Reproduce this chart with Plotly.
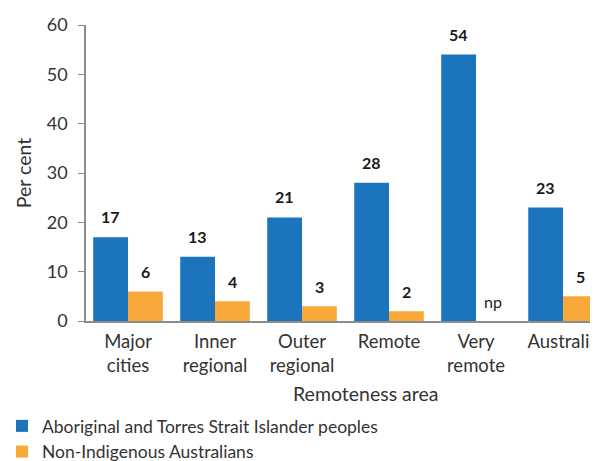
import plotly.graph_objects as go

categories = ["Major<br>cities", "Inner<br>regional", "Outer<br>regional", "Remote", "Very<br>remote", "Australia"]
indigenous = [17, 13, 21, 28, 54, 23]
non_indigenous = [6, 4, 3, 2, None, 5]
non_indigenous_text = ["6", "4", "3", "2", "np", "5"]
y_ticks = [0, 10, 20, 30, 40, 50, 60]

BLUE = "#1c75bc"
ORANGE = "#f9a93a"
FONT = "Lato, 'Open Sans', sans-serif"
TXT = "#333333"

# the page body offsets the figure by 8px
OFF = 8
W, H = 598 - OFF, 461 - OFF
L, R, T, B = 86 - OFF, 0, 25 - OFF, 140
PW, PH = W - L - R, H - T - B

def px_x(x):
    return (x - OFF - L) / PW

def px_y(y):
    return (H - B - (y - OFF)) / PH

x_idx = list(range(len(categories)))

fig = go.Figure()
fig.add_trace(go.Bar(x=x_idx, y=indigenous, name="Aboriginal and Torres Strait Islander peoples",
                     marker=dict(color=BLUE, line=dict(width=0))))
fig.add_trace(go.Bar(x=x_idx, y=[v if v is not None else 0 for v in non_indigenous],
                     name="Non-Indigenous Australians",
                     marker=dict(color=ORANGE, line=dict(width=0))))

LBL = dict(family=FONT, size=16, color="#1a1a1a")
annotations = []
for i, v in enumerate(indigenous):
    annotations.append(dict(x=i - 0.2, y=v, xref="x", yref="y", text="<b>%d</b>" % v,
                            showarrow=False, yanchor="bottom", yshift=9, font=LBL))
for i, v in enumerate(non_indigenous):
    if v is None:
        annotations.append(dict(x=i + 0.2, y=0, xref="x", yref="y", text=non_indigenous_text[i],
                                showarrow=False, yanchor="bottom", yshift=8, font=LBL))
    else:
        annotations.append(dict(x=i + 0.2, y=v, xref="x", yref="y", text="<b>%s</b>" % non_indigenous_text[i],
                                showarrow=False, yanchor="bottom", yshift=8, font=LBL))
annotations.append(dict(x=px_x(365), y=px_y(393), xref="paper", yref="paper", text="Remoteness area",
                        showarrow=False, xanchor="center", yanchor="middle",
                        font=dict(family=FONT, size=19.5, color=TXT)))

fig.update_layout(
    width=W, height=H,
    margin=dict(l=L, r=R, t=T, b=B, autoexpand=False),
    paper_bgcolor="white", plot_bgcolor="white",
    barmode="group", bargap=0.2, bargroupgap=0,
    font=dict(family=FONT, size=19, color=TXT),
    showlegend=True,
    legend=dict(orientation="v", x=px_x(2), xanchor="left", y=px_y(408), yanchor="top",
                font=dict(family=FONT, size=17.5, color=TXT), tracegroupgap=0,
                bgcolor="rgba(0,0,0,0)"),
    xaxis=dict(tickmode="array", tickvals=x_idx, ticktext=categories, range=[-0.483, 5.402],
               showline=True, linecolor="#8c8c8c", linewidth=1.5, ticks="", showgrid=False,
               zeroline=False, automargin=False, ticklabeloverflow="allow", ticklabelstandoff=3,
               tickfont=dict(family=FONT, size=18.5, color=TXT)),
    yaxis=dict(range=[0, 60], tickvals=y_ticks, showline=True, linecolor="#8c8c8c", linewidth=1.5,
               ticks="outside", ticklen=6, tickcolor="#8c8c8c", showgrid=False, zeroline=False,
               automargin=False, ticklabelstandoff=7,
               title=dict(text="Per cent", font=dict(family=FONT, size=19.5, color=TXT), standoff=10),
               tickfont=dict(family=FONT, size=18, color=TXT)),
    annotations=annotations,
)

fig.write_html("out.html")
